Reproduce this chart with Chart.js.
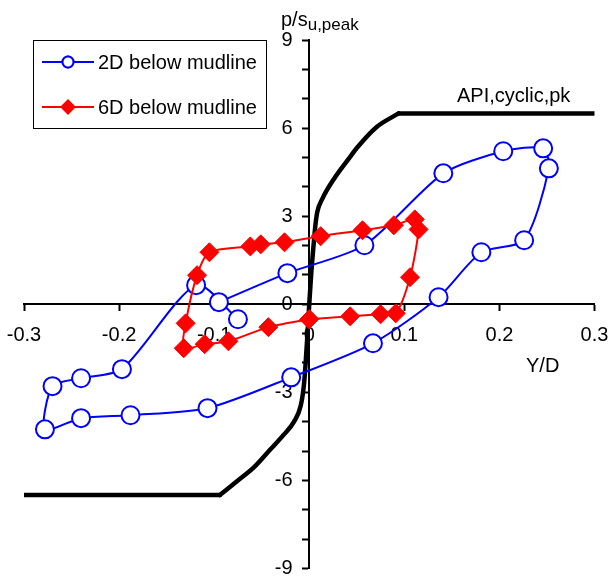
<!DOCTYPE html>
<html>
<head>
<meta charset="utf-8">
<script src="https://cdn.jsdelivr.net/npm/chart.js@4/dist/chart.umd.min.js"></script>
<style>
  body { margin: 0; background: #fff; }
  canvas { display: block; }
</style>
</head>
<body>
<canvas id="myChart" width="612" height="581"></canvas>
<script>
/************************/
/*   p-y loops chart    */
/************************/

// 2D below mudline (blue open circles)
var blueX = [-0.095, -0.023, 0.058, 0.141, 0.204, 0.246, 0.252, 0.226, 0.181, 0.136,
             0.067, -0.019, -0.107, -0.188, -0.240, -0.278, -0.270, -0.240, -0.197, -0.119, -0.075]
var blueY = [0.07, 1.06, 2.01, 4.46, 5.21, 5.31, 4.63, 2.18, 1.77, 0.24,
             -1.33, -2.49, -3.54, -3.78, -3.88, -4.26, -2.79, -2.52, -2.21, 0.65, -0.51]

// 6D below mudline (red diamonds)
var redX = [0.000, -0.043, -0.085, -0.110, -0.132, -0.130, -0.118, -0.105, -0.062, -0.051, -0.026,
            0.012, 0.056, 0.089, 0.111, 0.115, 0.106, 0.091, 0.075, 0.043, 0.000]
var redY = [-0.51, -0.78, -1.26, -1.36, -1.50, -0.65, 0.99, 1.77, 1.97, 2.04, 2.11,
            2.32, 2.52, 2.69, 2.89, 2.55, 0.92, -0.31, -0.34, -0.41, -0.51]

// API cyclic p-y curve (black): flat ends + curved middle part
var apiLowX = [-0.3, -0.094]
var apiLowY = [-6.5, -6.5]
var apiMidX = [-0.094, -0.076, -0.058, -0.041, -0.027, -0.016, -0.009, -0.0057, -0.004, -0.002,
               0, 0.002, 0.0045, 0.0065, 0.0085, 0.0136, 0.0258, 0.043, 0.05, 0.0706, 0.094]
var apiMidY = [-6.5, -6.03, -5.55, -4.95, -4.45, -4.0, -3.46, -2.78, -2.1, -1.08,
               0, 1.0, 2.0, 2.7, 3.15, 3.58, 4.26, 5.02, 5.32, 6.03, 6.5]
var apiHighX = [0.094, 0.3]
var apiHighY = [6.5, 6.5]

var xTicks = { min: -0.3, max: 0.3, step: 0.1 }
var yTicks = { min: -9, max: 9, step: 1, labelEvery: 3 }

var FONT = "'Liberation Sans', Arial, sans-serif"

var toPoints = function(xs, ys) {
    var pts = []
    for (var i = 0; i < xs.length; i++) {
        pts.push({ x: xs[i], y: ys[i] })
    }
    return pts
}

// axes sit in the middle of the chart: take no layout room
var noRoom = function(scale) {
    if (scale.isHorizontal()) {
        scale.height = 0
    } else {
        scale.width = 0
    }
    scale.paddingLeft = 0
    scale.paddingRight = 0
    scale.paddingTop = 0
    scale.paddingBottom = 0
}

// legend, axis titles and curve label
var decorations = {
    id: 'decorations',
    afterDraw: function(chart) {
        var ctx = chart.ctx
        var ds = chart.data.datasets
        ctx.save()

        // legend box
        ctx.fillStyle = '#fff'
        ctx.fillRect(33.5, 40.5, 233, 88)
        ctx.strokeStyle = '#000'
        ctx.lineWidth = 1
        ctx.strokeRect(33.5, 40.5, 233, 88)

        var rows = [62, 107]
        for (var i = 0; i < 2; i++) {
            var d = ds[i]
            var y = rows[i]
            ctx.strokeStyle = d.borderColor
            ctx.lineWidth = 2
            ctx.beginPath()
            ctx.moveTo(42, y)
            ctx.lineTo(94, y)
            ctx.stroke()
            Chart.helpers.drawPoint(ctx, {
                pointStyle: d.pointStyle,
                radius: i == 0 ? 5.5 : 6.5,
                borderWidth: d.pointBorderWidth,
                rotation: 0
            }, 68, y)
            ctx.fillStyle = d.pointBackgroundColor
            ctx.strokeStyle = d.borderColor
            ctx.lineWidth = d.pointBorderWidth
            ctx.fill()
            ctx.stroke()

            ctx.fillStyle = '#000'
            ctx.font = '20px ' + FONT
            ctx.textAlign = 'left'
            ctx.textBaseline = 'middle'
            ctx.fillText(d.label, 98, y + 1)
        }

        // y axis title with subscript
        ctx.fillStyle = '#000'
        ctx.textBaseline = 'alphabetic'
        ctx.font = '20px ' + FONT
        ctx.fillText('p/s', 281, 26)
        var w = ctx.measureText('p/s').width
        ctx.font = '17px ' + FONT
        ctx.fillText('u,peak', 281 + w, 30)

        // x axis title
        ctx.font = '20px ' + FONT
        ctx.fillText('Y/D', 526, 371.5)

        // curve label
        ctx.fillText('API,cyclic,pk', 457, 101.5)

        ctx.restore()
    }
}

var apiStyle = function(label, pts, mode) {
    return {
        label: label,
        data: pts,
        borderColor: '#000',
        borderWidth: 4.5,
        pointRadius: 0,
        cubicInterpolationMode: mode,
        tension: 0,
        borderCapStyle: 'round',
        borderJoinStyle: 'round',
        order: 2
    }
}

var data = {
    datasets: [{
        label: '2D below mudline',
        data: toPoints(blueX, blueY),
        borderColor: '#0000ff',
        borderWidth: 2,
        pointStyle: 'circle',
        pointRadius: 9,
        pointBorderWidth: 2,
        pointBackgroundColor: '#fff',
        pointBorderColor: '#0000ff',
        tension: 0.25,
        order: 1
    }, {
        label: '6D below mudline',
        data: toPoints(redX, redY),
        borderColor: '#ff0000',
        borderWidth: 2,
        pointStyle: 'rectRot',
        pointRadius: 9.5,
        pointBorderWidth: 1,
        pointBackgroundColor: '#ff0000',
        pointBorderColor: '#ff0000',
        tension: 0.25,
        order: 0
    },
    apiStyle('API low', toPoints(apiLowX, apiLowY), 'default'),
    apiStyle('API,cyclic,pk', toPoints(apiMidX, apiMidY), 'monotone'),
    apiStyle('API high', toPoints(apiHighX, apiHighY), 'default')
    ]
}

var options = {
    responsive: false,
    animation: false,
    devicePixelRatio: 1,
    showLine: true,
    layout: {
        padding: { left: 24, right: 17.5, top: 40, bottom: 12.5 }
    },
    plugins: {
        legend: { display: false },
        tooltip: { enabled: false },
        title: { display: false }
    },
    scales: {
        x: {
            type: 'linear',
            min: xTicks.min,
            max: xTicks.max,
            position: { y: 0 },
            afterFit: noRoom,
            border: { display: true, color: '#000', width: 2 },
            grid: { drawOnChartArea: false, drawTicks: true, tickLength: 6, color: '#000', tickWidth: 2 },
            ticks: {
                stepSize: xTicks.step,
                autoSkip: false,
                maxRotation: 0,
                padding: 13,
                color: '#000',
                font: { family: FONT, size: 20 },
                callback: function(v) { return String(Math.round(v * 10) / 10) }
            }
        },
        y: {
            type: 'linear',
            min: yTicks.min,
            max: yTicks.max,
            position: { x: 0 },
            afterFit: noRoom,
            border: { display: true, color: '#000', width: 2 },
            grid: { drawOnChartArea: false, drawTicks: true, tickLength: 6, color: '#000', tickWidth: 2 },
            ticks: {
                stepSize: yTicks.step,
                autoSkip: false,
                color: '#000',
                font: { family: FONT, size: 20 },
                // labels are right-aligned on the axis line here, so pad with spaces
                callback: function(v) {
                    return (Math.round(v) % yTicks.labelEvery == 0) ? String(Math.round(v)) + '   ' : ''
                }
            }
        }
    }
}

var ctx = document.getElementById('myChart')
var myChart = new Chart(ctx, {
    type: 'scatter',
    data: data,
    options: options,
    plugins: [decorations]
})
</script>
</body>
</html>
